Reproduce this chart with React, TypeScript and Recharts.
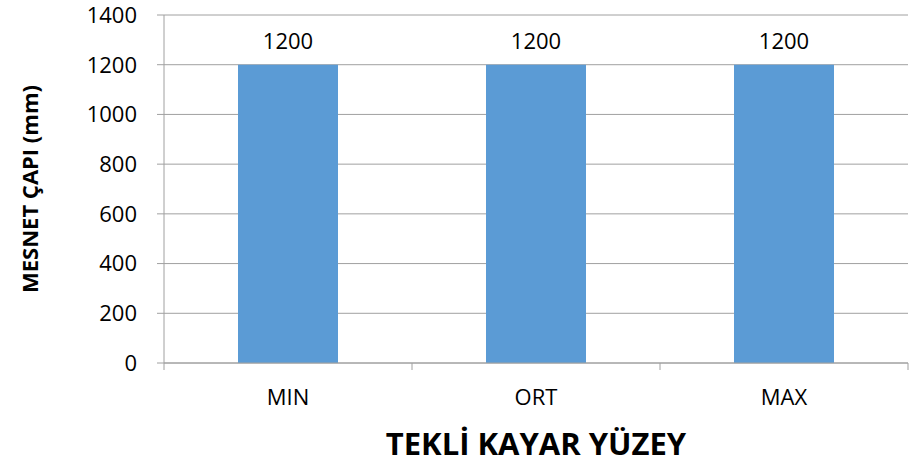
import { BarChart, Bar, XAxis, YAxis, CartesianGrid, LabelList, Label } from 'recharts'

const categories = ['MIN', 'ORT', 'MAX']
const mesnetCapi = [1200, 1200, 1200]
const yTicks = [0, 200, 400, 600, 800, 1000, 1200, 1400]

const FONT = '"Open Sans", "Liberation Sans", sans-serif'
const GRID = '#a0a0a0'
const W = 922
const H = 465
const MARGIN = { top: 15, right: 14, left: 0, bottom: 0 }
const Y_AXIS_W = 164
const BAND = (W - Y_AXIS_W - MARGIN.right) / categories.length

const data = categories.map((name, i) => ({ name, value: mesnetCapi[i] }))

// category label plus the tick marks on the category boundaries (Excel style)
function CategoryTick(props: any) {
  const { x, y, payload, index } = props
  const last = index === categories.length - 1
  return (
    <g>
      <line x1={x - BAND / 2} y1={y} x2={x - BAND / 2} y2={y + 7} stroke={GRID} />
      {last && <line x1={x + BAND / 2} y1={y} x2={x + BAND / 2} y2={y + 7} stroke={GRID} />}
      <text x={x} y={y + 42} textAnchor="middle" fontSize={22} fontFamily={FONT} fill="#000">
        {payload.value}
      </text>
    </g>
  )
}

export default function App() {
  return (
    <div style={{ position: 'absolute', left: 0, top: 0, width: W, height: H, background: '#fff' }}>
      <BarChart width={W} height={H} data={data} margin={MARGIN}>
        <CartesianGrid vertical={false} stroke={GRID} />
        <XAxis
          dataKey="name"
          interval={0}
          height={102}
          tickSize={0}
          tickMargin={0}
          tick={<CategoryTick />}
          axisLine={{ stroke: GRID }}
        >
          <Label
            value="TEKLİ KAYAR YÜZEY"
            position="insideBottom"
            offset={10}
            style={{ fontSize: 31, fontWeight: 700, fontFamily: FONT, fill: '#000' }}
          />
        </XAxis>
        <YAxis
          width={Y_AXIS_W}
          domain={[0, 1400]}
          ticks={yTicks}
          interval={0}
          tickSize={7}
          tickMargin={20}
          tick={{ fontSize: 22, fontFamily: FONT, fill: '#000' }}
          axisLine={{ stroke: GRID }}
          tickLine={{ stroke: GRID }}
          label={{
            content: ({ viewBox }: any) => {
              const cx = viewBox.x + 29
              const cy = viewBox.y + viewBox.height / 2
              return (
                <text
                  x={cx}
                  y={cy}
                  transform={`rotate(-90, ${cx}, ${cy})`}
                  textAnchor="middle"
                  dominantBaseline="central"
                  fontSize={22}
                  fontWeight={700}
                  fontFamily={FONT}
                  fill="#000"
                >
                  MESNET ÇAPI (mm)
                </text>
              )
            },
          }}
        />
        <Bar dataKey="value" fill="#5b9bd5" barSize={100} isAnimationActive={false}>
          <LabelList dataKey="value" position="top" offset={16} style={{ fontSize: 22, fontFamily: FONT, fill: '#000' }} />
        </Bar>
      </BarChart>
    </div>
  )
}
